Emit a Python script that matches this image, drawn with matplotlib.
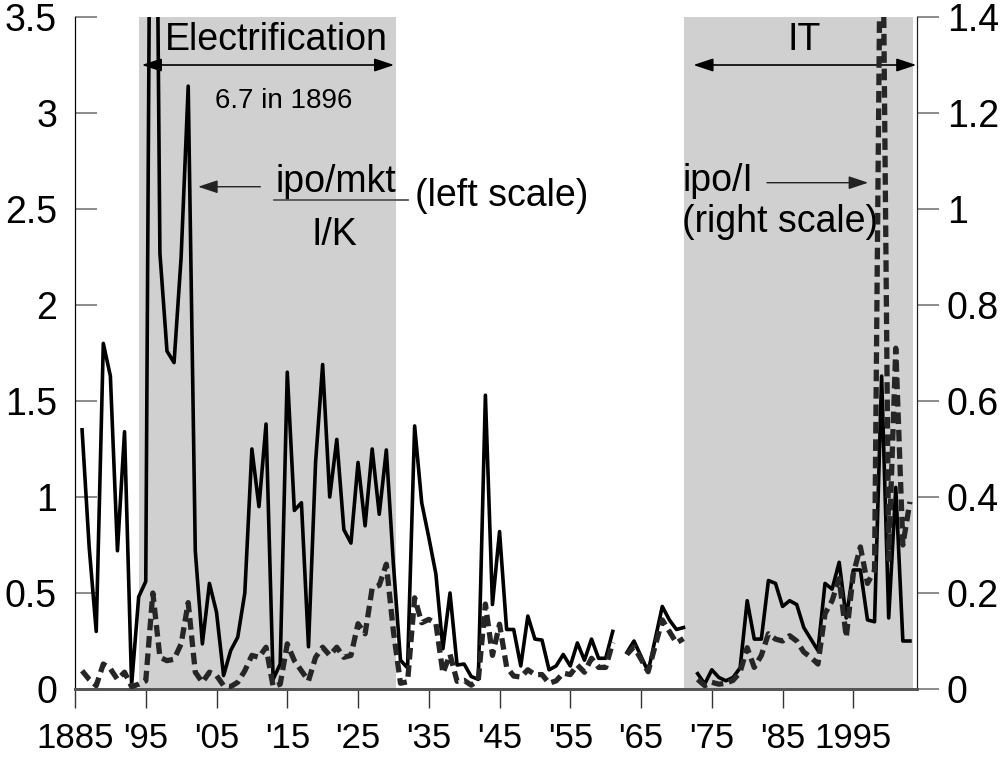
import numpy as np
import matplotlib
matplotlib.use("Agg")
import matplotlib.pyplot as plt
from matplotlib.ticker import FormatStrFormatter

plt.rcParams["font.family"] = ["Liberation Sans", "DejaVu Sans"]

# data (1962 and 1972 missing)
years = np.arange(1886, 2004)
ipo_mkt_over_ik = [
    1.35, 0.74, 0.30, 1.80, 1.63, 0.72, 1.34, 0.02, 0.48, 0.56,          # 1886-1895
    6.70, 2.27, 1.76, 1.70, 2.25, 3.14, 0.72, 0.235, 0.55, 0.40,         # 1896-1905
    0.07, 0.20, 0.27, 0.50, 1.25, 0.95, 1.38, 0.05, 0.13, 1.65,          # 1906-1915
    0.93, 0.97, 0.22, 1.18, 1.69, 1.00, 1.30, 0.83, 0.76, 1.18,          # 1916-1925
    0.85, 1.25, 0.91, 1.245, 0.65, 0.15, 0.11, 1.37, 0.97, 0.79,         # 1926-1935
    0.60, 0.21, 0.50, 0.125, 0.13, 0.065, 0.05, 1.53, 0.44, 0.82,        # 1936-1945
    0.31, 0.31, 0.12, 0.38, 0.26, 0.255, 0.10, 0.12, 0.18, 0.12,         # 1946-1955
    0.24, 0.15, 0.26, 0.16, 0.16, 0.30, np.nan, 0.19, 0.25, 0.17,        # 1956-1965
    0.09, 0.26, 0.43, 0.36, 0.31, 0.32, np.nan, 0.08, 0.026, 0.10,       # 1966-1975
    0.06, 0.043, 0.06, 0.11, 0.46, 0.26, 0.26, 0.565, 0.55, 0.43,        # 1976-1985
    0.46, 0.44, 0.32, 0.26, 0.20, 0.55, 0.52, 0.66, 0.37, 0.62,          # 1986-1995
    0.62, 0.36, 0.35, 1.63, 0.37, 1.05, 0.25, 0.25,                      # 1996-2003
]
ipo_over_i = [
    0.038, 0.020, 0.007, 0.052, 0.042, 0.020, 0.035, 0.005, 0.010, 0.017,   # 1886-1895
    0.200, 0.066, 0.059, 0.062, 0.094, 0.180, 0.035, 0.014, 0.035, 0.028,   # 1896-1905
    0.007, 0.005, 0.014, 0.038, 0.070, 0.066, 0.087, 0.005, 0.010, 0.094,   # 1906-1915
    0.059, 0.038, 0.017, 0.066, 0.087, 0.070, 0.087, 0.066, 0.070, 0.136,   # 1916-1925
    0.115, 0.210, 0.216, 0.260, 0.120, 0.012, 0.015, 0.190, 0.138, 0.145,   # 1926-1935
    0.137, 0.033, 0.072, 0.016, 0.018, 0.008, 0.019, 0.177, 0.070, 0.135,   # 1936-1945
    0.046, 0.027, 0.025, 0.040, 0.030, 0.030, 0.012, 0.017, 0.033, 0.030,   # 1946-1955
    0.050, 0.035, 0.064, 0.045, 0.045, 0.097, np.nan, 0.072, 0.088, 0.062,  # 1956-1965
    0.036, 0.090, 0.144, 0.120, 0.096, 0.105, np.nan, 0.020, 0.007, 0.014,  # 1966-1975
    0.010, 0.012, 0.018, 0.035, 0.086, 0.045, 0.070, 0.115, 0.104, 0.100,  # 1976-1985
    0.111, 0.100, 0.077, 0.066, 0.052, 0.157, 0.184, 0.230, 0.108, 0.240,  # 1986-1995
    0.296, 0.220, 0.247, 1.900, 0.270, 0.710, 0.300, 0.390,                # 1996-2003
]
tick_years = np.arange(1885, 2000, 10)
tick_labels = ["1885", "'95", "'05", "'15", "'25", "'35", "'45", "'55",
               "'65", "'75", "'85", "1995"]
electrification = (1894, 1930.4)
it_era = (1971, 2003.4)

fig = plt.figure(figsize=(10.06, 7.66), dpi=100)
ax = fig.add_axes([75 / 1006, 77 / 766, 842 / 1006, 672 / 766])

# shaded technology eras
for start, end in [electrification, it_era]:
    ax.axvspan(start, end, color="#d0d0d0", lw=0, zorder=0)

ax.plot(years, ipo_mkt_over_ik, color="black", lw=2.6, zorder=3)
ax.set_xlim(1885, 2004)
ax.set_ylim(0, 3.5)
ax.set_yticks(np.arange(0, 3.51, 0.5))
ax.yaxis.set_major_formatter(FormatStrFormatter("%g"))
ax.set_xticks(tick_years)
ax.set_xticklabels(tick_labels)

ax2 = ax.twinx()
ax2.plot(years, ipo_over_i, color="#262626", lw=3.8, dashes=(2.2, 1.1), zorder=3)
ax2.set_ylim(0, 1.4)
ax2.set_yticks(np.arange(0, 1.41, 0.2))
ax2.yaxis.set_major_formatter(FormatStrFormatter("%g"))

for a in (ax, ax2):
    a.spines["top"].set_visible(False)
    a.spines["left"].set_color("black")
    a.spines["right"].set_color("#202020")
    a.spines["bottom"].set_color("#555555")
    a.spines["bottom"].set_linewidth(2)
ax.tick_params(axis="y", direction="in", length=16, width=1.2, color="#777777",
               pad=13, labelsize=27)
ax2.tick_params(axis="y", direction="out", length=16, width=1.2, color="#777777",
                pad=5.5, labelsize=27)
ax.tick_params(axis="x", direction="out", length=14, width=1, color="#333333",
               pad=10, labelsize=25)

# annotations
ax.text(1913.5, 3.38, "Electrification", fontsize=27, ha="center", va="center")
ax.annotate("", xy=(1894.44, 3.25), xytext=(1930.1, 3.25),
            arrowprops=dict(arrowstyle="<|-|>,head_length=0.75,head_width=0.25",
                            color="black", lw=1.2, shrinkA=0, shrinkB=0,
                            mutation_scale=16))
ax.text(1988.0, 3.38, "IT", fontsize=27, ha="center", va="center")
ax.annotate("", xy=(1972.4, 3.25), xytext=(2003.9, 3.25),
            arrowprops=dict(arrowstyle="<|-|>,head_length=0.75,head_width=0.25",
                            color="black", lw=1.2, shrinkA=0, shrinkB=0,
                            mutation_scale=16), annotation_clip=False)
ax.text(1904.8, 3.06, "6.7 in 1896", fontsize=20, ha="left", va="center")

ax.text(1921.9, 2.59, "ipo/mkt", fontsize=27, ha="center", va="baseline")
ax.plot([1913.1, 1932.1], [2.547, 2.547], color="#555555", lw=1.3, zorder=4)
ax.text(1921.6, 2.31, "I/K", fontsize=27, ha="center", va="baseline")
ax.text(1945.3, 2.568, "(left scale)", fontsize=27, ha="center", va="center")
ax.annotate("", xy=(1902.4, 2.616), xytext=(1911.2, 2.616),
            arrowprops=dict(arrowstyle="-|>,head_length=0.75,head_width=0.25",
                            color="#222222", lw=1.0, shrinkA=0, shrinkB=0,
                            mutation_scale=16))

ax.text(1970.9, 2.595, "ipo/I", fontsize=27, ha="left", va="baseline")
ax.text(1970.8, 2.38, "(right scale)", fontsize=27, ha="left", va="baseline")
ax.annotate("", xy=(1997.1, 2.637), xytext=(1982.8, 2.637),
            arrowprops=dict(arrowstyle="-|>,head_length=0.75,head_width=0.25",
                            color="#222222", lw=1.0, shrinkA=0, shrinkB=0,
                            mutation_scale=16))

fig.savefig("out.png", dpi=100)
